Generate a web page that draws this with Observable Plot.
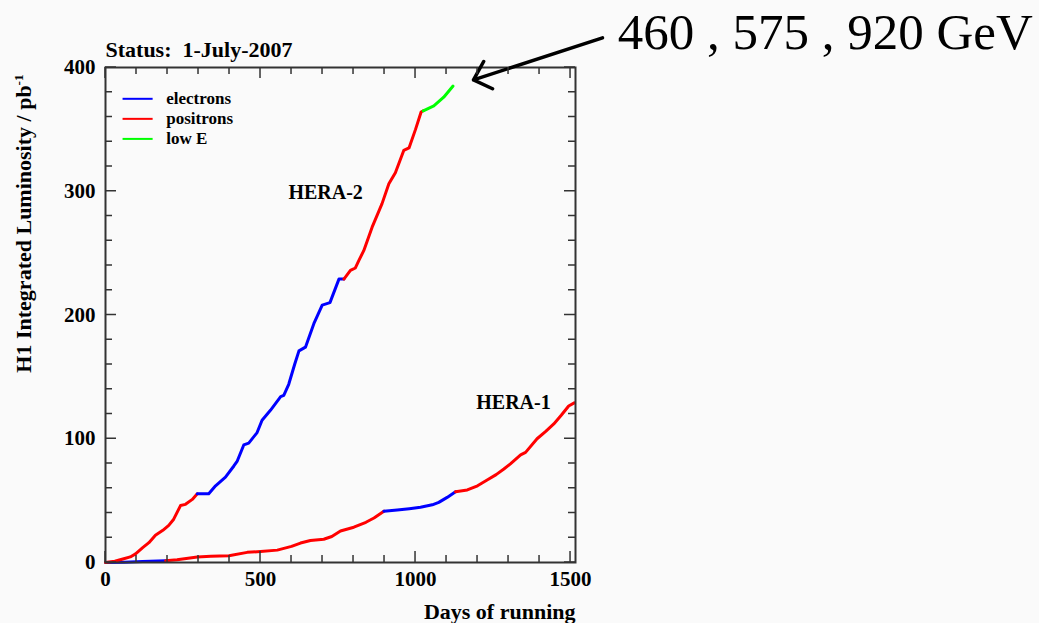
<!DOCTYPE html>
<html>
<head>
<meta charset="utf-8">
<script src="https://cdn.jsdelivr.net/npm/d3@7"></script>
<script src="https://cdn.jsdelivr.net/npm/@observablehq/plot@0.6"></script>
<style>
  html, body { margin: 0; padding: 0; background: #fafafa; }
  #chart svg { display: block; }
</style>
</head>
<body>
<div id="chart"></div>
<script>
// ---------- data ----------
const beams = ["electrons", "positrons", "low E"];
const beamColors = ["#0000ff", "#ff0000", "#00ff00"];

// HERA-1 (boundary points repeated so coloured segments join)
const hera1Days = [0, 60, 120, 194,
  194, 231, 296, 340, 398, 457, 500, 554, 600, 629, 661, 704, 730, 758, 801, 840, 866, 898,
  898, 941, 980, 1016, 1054, 1075, 1102, 1129,
  1129, 1167, 1200, 1231, 1260, 1285, 1306, 1339, 1355, 1392, 1420, 1446, 1470, 1494, 1512];
const hera1Lumi = [0, 0.3, 0.8, 1.5,
  1.5, 2.2, 4.4, 5.0, 5.5, 8.2, 8.9, 10.0, 13.0, 15.7, 17.8, 18.8, 21.0, 25.5, 28.5, 32.5, 36.0, 41.5,
  41.5, 42.5, 43.5, 44.6, 46.6, 48.6, 52.6, 57.2,
  57.2, 58.6, 62.0, 66.6, 71.0, 75.6, 79.7, 87.0, 89.0, 100.0, 106.0, 112.0, 119.0, 126.5, 129.0];
const hera1Beam = ["electrons", "electrons", "electrons", "electrons",
  ...Array(18).fill("positrons"),
  ...Array(8).fill("electrons"),
  ...Array(15).fill("positrons")];

// HERA-2
const hera2Days = [0, 30, 59, 80, 97, 120, 140, 161, 185, 204, 220, 242, 258, 280, 296,
  296, 333, 355, 387, 414, 425, 446, 462, 489, 505, 532, 565, 575, 591, 610, 624, 645, 672, 699, 724, 753, 769,
  769, 790, 806, 817, 833, 860, 892, 914, 935, 962, 979, 1000, 1018, 1025,
  1025, 1059, 1091, 1121];
const hera2Lumi = [0, 1, 3, 4.5, 7, 12, 16, 22, 26, 30, 35, 46, 47, 51, 55.5,
  55.5, 55.5, 62, 69, 78, 82, 95, 96.5, 105, 115, 123, 134, 135, 144, 160, 171, 174, 193, 208, 210, 229, 229,
  229, 236, 238, 244, 252, 271, 290, 306, 315, 333, 335, 350, 364, 365,
  365, 369, 376, 385];
const hera2Beam = [...Array(15).fill("positrons"),
  ...Array(22).fill("electrons"),
  ...Array(14).fill("positrons"),
  ...Array(4).fill("low E")];

// tick values
const xMajorTicks = [0, 500, 1000, 1500];
const yMajorTicks = [0, 100, 200, 300, 400];
const xMinorTicks = d3.range(0, 1501, 100);
const yMinorTicks = d3.range(0, 401, 20);

// texts
const titleText = "Status:\u00a0 1-July-2007";
const xLabel = "Days of running";
const yLabel = "H1 Integrated Luminosity / pb";
const yLabelSup = "-1";
const curveLabels = [
  {text: "HERA-2", day: 710, lumi: 294},
  {text: "HERA-1", day: 1316, lumi: 124.4}
];
const annotationText = [{text: "460 , 575 , 920 GeV", day: 1652, lumi: 415}];
const annotationArrow = [{day1: 1603, lumi1: 424, day2: 1187, lumi2: 390}];

// ---------- build rows ----------
function toRows(curve, days, lumi, beam) {
  let seg = 0;
  return days.map((d, i) => {
    if (i > 0 && beam[i] !== beam[i - 1]) seg++;
    return {curve, seg: curve + "-" + seg, day: d, lumi: lumi[i], beam: beam[i]};
  });
}
const rows = [
  ...toRows("HERA-1", hera1Days, hera1Lumi, hera1Beam),
  ...toRows("HERA-2", hera2Days, hera2Lumi, hera2Beam)
];

// legend rows (placed in data space inside the frame)
const legendRows = beams.map((b, i) => ({beam: b, y: 374.7 - i * 16.2}));

// ---------- layout ----------
const W = 1039, H = 623;
const mL = 105, mR = 464, mT = 67, mB = 61;
const majorLen = 11, minorLen = 7;
const axisColor = "#333";
const isXMajor = d => d % 500 === 0;
const isYMajor = d => d % 100 === 0;

const chart = Plot.plot({
  width: W,
  height: H,
  marginLeft: mL, marginRight: mR, marginTop: mT, marginBottom: mB,
  style: {background: "#fafafa", fontFamily: "'Liberation Serif', 'Times New Roman', serif", fontSize: "21px", fontWeight: "bold", overflow: "visible"},
  x: {domain: [0, 1516], axis: null},
  y: {domain: [0, 400], axis: null},
  color: {domain: beams, range: beamColors},
  marks: [
    Plot.line(rows, {x: "day", y: "lumi", z: "seg", stroke: "beam", strokeWidth: 3, curve: "linear"}),
    Plot.frame({stroke: axisColor, strokeWidth: 2}),
    Plot.text(yMajorTicks, {y: d => d, text: d => String(d), frameAnchor: "left", dx: -10, textAnchor: "end", lineAnchor: "middle", fontSize: 21, fontWeight: "bold", fill: "black"}),
    Plot.text(xMajorTicks, {x: d => d, text: d => String(d), frameAnchor: "bottom", dy: 23, lineAnchor: "bottom", fontSize: 21, fontWeight: "bold", fill: "black"}),
    Plot.text([titleText], {text: d => d, frameAnchor: "top-left", dy: -11, textAnchor: "start", lineAnchor: "bottom", fontSize: 22, fontWeight: "bold", fill: "black"}),
    Plot.text([xLabel], {text: d => d, frameAnchor: "bottom-right", dy: 56, textAnchor: "end", lineAnchor: "bottom", fontSize: 22, fontWeight: "bold", fill: "black"}),
    Plot.text([yLabel], {text: d => d, frameAnchor: "top-left", dx: -82, dy: 156, rotate: -90, textAnchor: "middle", lineAnchor: "middle", fontSize: 22, fontWeight: "bold", fill: "black"}),
    Plot.link(legendRows, {x1: 55, x2: 152, y1: "y", y2: "y", stroke: "beam", strokeWidth: 2}),
    Plot.text(legendRows, {x: 196, y: "y", text: "beam", textAnchor: "start", lineAnchor: "middle", fontSize: 17, fontWeight: "bold", fill: "black"}),
    Plot.text(curveLabels, {x: "day", y: "lumi", text: "text", textAnchor: "middle", lineAnchor: "bottom", fontSize: 20, fontWeight: "bold", fill: "black"}),
    Plot.text(annotationText, {x: "day", y: "lumi", text: "text", textAnchor: "start", lineAnchor: "bottom", fontSize: 51, fontWeight: "normal", fill: "black"}),
    Plot.arrow(annotationArrow, {x1: "day1", y1: "lumi1", x2: "day2", y2: "lumi2", stroke: "black", strokeWidth: 3.5, headAngle: 86, headLength: 9})
  ]
});

// inward tick marks on all four sides, positioned by the chart's own scales
(function () {
  const xs = chart.scale("x"), ys = chart.scale("y");
  const svg = d3.select(chart);
  const g = svg.append("g").attr("aria-label", "ticks").attr("stroke", axisColor).attr("stroke-width", 1.5);
  const top = mT, bottom = H - mB, left = mL, right = W - mR;
  xMinorTicks.forEach(d => {
    const px = xs.apply(d), len = isXMajor(d) ? majorLen : minorLen;
    g.append("line").attr("x1", px).attr("x2", px).attr("y1", bottom).attr("y2", bottom - len);
    g.append("line").attr("x1", px).attr("x2", px).attr("y1", top).attr("y2", top + len);
  });
  yMinorTicks.forEach(d => {
    const py = ys.apply(d), len = isYMajor(d) ? majorLen : minorLen;
    g.append("line").attr("x1", left).attr("x2", left + len).attr("y1", py).attr("y2", py);
    g.append("line").attr("x1", right).attr("x2", right - len).attr("y1", py).attr("y2", py);
  });
  // superscript on the y label
  svg.selectAll("text").filter(function () { return this.textContent === yLabel; }).each(function () {
    const t = d3.select(this);
    t.text(null);
    t.append("tspan").text(yLabel);
    t.append("tspan").attr("dy", "-0.55em").attr("font-size", "0.6em").text(yLabelSup);
  });
  document.getElementById("chart").append(chart);
})();
</script>
</body>
</html>
